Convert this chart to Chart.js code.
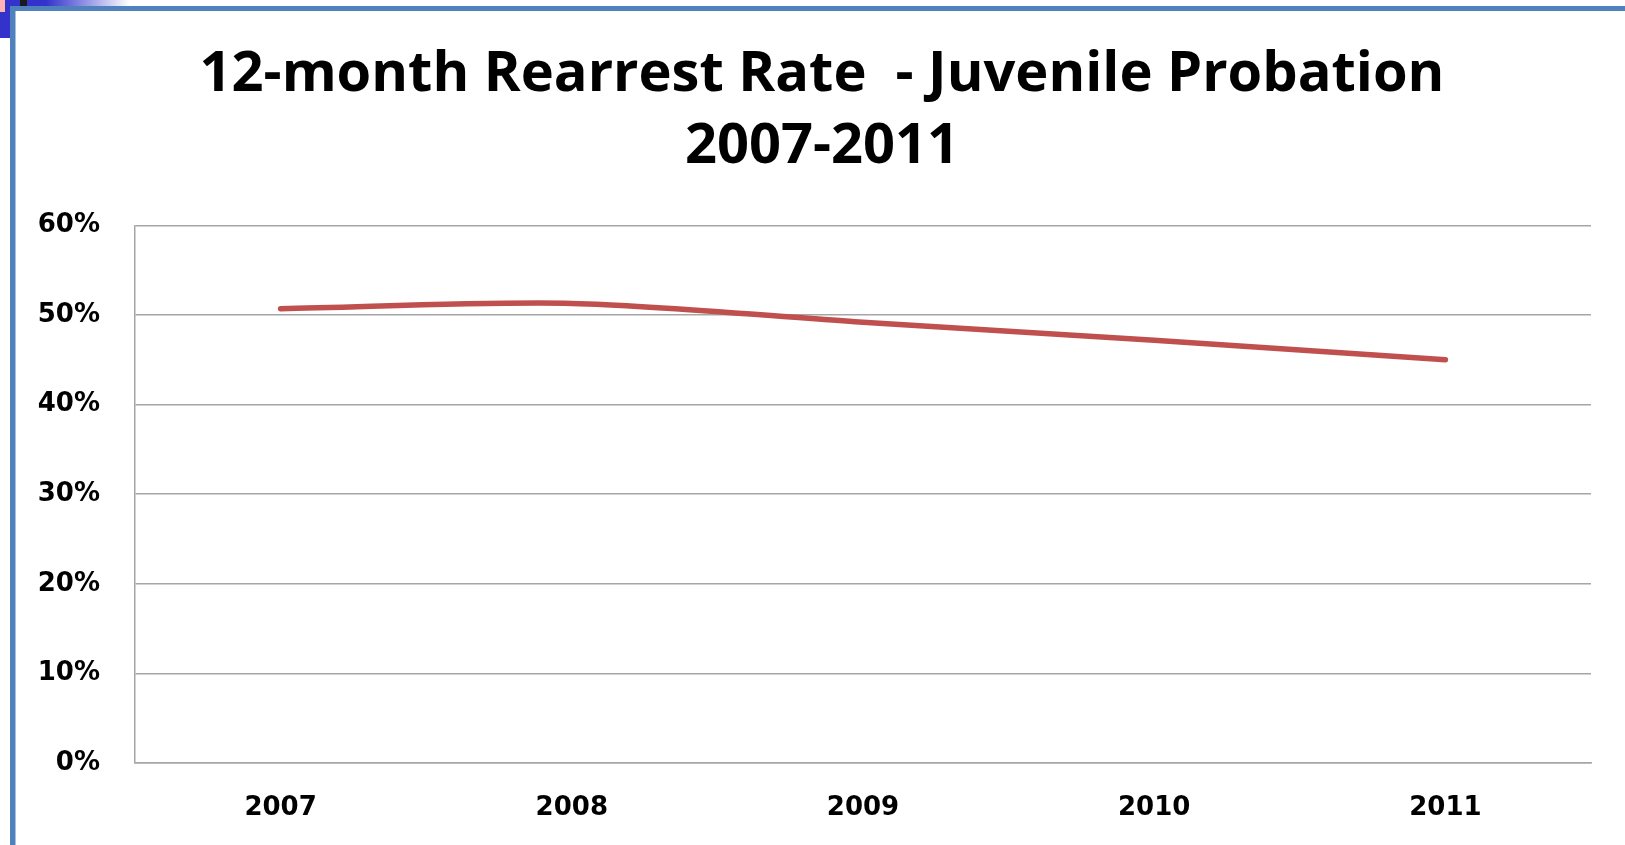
<!DOCTYPE html>
<html>
<head>
<meta charset="utf-8">
<script src="https://cdn.jsdelivr.net/npm/chart.js@4.4.1/dist/chart.umd.min.js"></script>
<style>
  body { margin: 0; background: #fff; overflow: hidden; }
  #wrap { position: relative; width: 1625px; height: 845px; }
  #chart { position: absolute; left: 0; top: 0; }
  .deco { position: absolute; }
</style>
</head>
<body>
<div id="wrap">
  <canvas id="chart" width="1625" height="845"></canvas>
  <div class="deco" style="left:0;top:0;width:10px;height:38px;background:#3333cc"></div>
  <div class="deco" style="left:0;top:0;width:5px;height:12px;background:#ffb3b3"></div>
  <div class="deco" style="left:10px;top:0;width:120px;height:6px;background:linear-gradient(to right,#3333cc 0%,#3333cc 30%,#ffffff 100%)"></div>
  <div class="deco" style="left:20px;top:0;width:7px;height:6px;background:#1a1a1a"></div>
  <div class="deco" style="left:10px;top:6px;width:1615px;height:5px;background:#4f81bd"></div>
  <div class="deco" style="left:10px;top:6px;width:5px;height:839px;background:#4f81bd"></div>
  <div class="deco" style="left:15px;top:11px;width:1px;height:834px;background:#a8c0e0"></div>
</div>
<script>
var years = ["2007", "2008", "2009", "2010", "2011"];
var rearrestRate = [0.507, 0.513, 0.492, 0.472, 0.450];
var yTicks = [0, 0.1, 0.2, 0.3, 0.4, 0.5, 0.6];

showChart();

function showChart() {
    var ctx = document.getElementById("chart").getContext('2d');
    var gridGray = "#a6a6a6";
    var tickFont = { family: "DejaVu Sans", weight: "bold", size: 26 };

    // the slide title sits a bit right of the plot centre
    var shiftTitle = {
        id: 'shiftTitle',
        afterLayout: function (chart) {
            if (chart.titleBlock) chart.titleBlock.left = 53;
        }
    };

    new Chart(ctx, {
        type: 'line',
        data: {
            labels: years,
            datasets: [
                {
                    label: "12-month Rearrest Rate",
                    data: rearrestRate,
                    borderColor: "#c0504d",
                    borderWidth: 5.5,
                    borderCapStyle: 'round',
                    pointRadius: 0,
                    tension: 0.3,
                    fill: false
                }
            ]
        },
        plugins: [shiftTitle],
        options: {
            responsive: false,
            animation: false,
            layout: { padding: { left: 20, right: 34, top: 0, bottom: 0 } },
            plugins: {
                legend: { display: false },
                tooltip: { enabled: false },
                title: {
                    display: true,
                    text: ["12-month Rearrest Rate  - Juvenile Probation", "2007-2011"],
                    color: "#000",
                    font: { family: "Open Sans", weight: "bold", size: 56, lineHeight: 1.29 },
                    padding: { top: 39, bottom: 42 }
                }
            },
            scales: {
                x: {
                    offset: true,
                    grid: { display: false },
                    border: { display: true, color: gridGray, width: 1.5 },
                    ticks: { color: "#000", font: tickFont, padding: 22, maxRotation: 0 },
                    afterFit: function (scale) { scale.height = 82; }
                },
                y: {
                    min: 0,
                    max: 0.6,
                    afterBuildTicks: function (scale) {
                        scale.ticks = yTicks.map(function (v) { return { value: v }; });
                    },
                    grid: { color: gridGray, lineWidth: 1.5, drawTicks: false },
                    border: { display: true, color: gridGray, width: 1.5 },
                    ticks: {
                        color: "#000",
                        font: tickFont,
                        padding: 35,
                        callback: function (v) { return Math.round(v * 100) + '%'; }
                    },
                    afterFit: function (scale) { scale.width = 115; }
                }
            }
        }
    });
}
</script>
</body>
</html>
